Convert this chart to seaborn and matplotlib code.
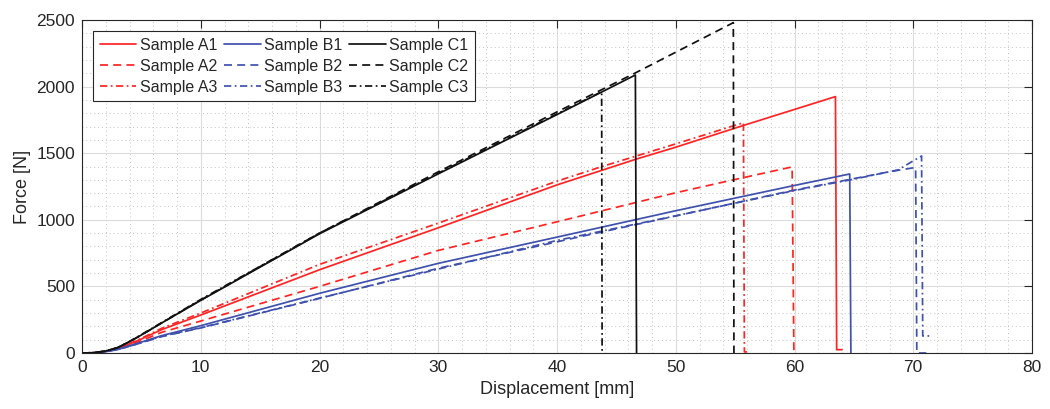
import matplotlib
matplotlib.use("Agg")
import matplotlib.pyplot as plt
import seaborn as sns
import pandas as pd
from matplotlib.ticker import MultipleLocator

# ---------------- data ----------------
labels = ["Sample A1", "Sample A2", "Sample A3",
          "Sample B1", "Sample B2", "Sample B3",
          "Sample C1", "Sample C2", "Sample C3"]

a1_x = [0, 1, 2, 3, 4, 5, 6.7, 10, 20, 30, 40, 46.65, 50, 55.4, 63.45, 63.55, 64.0]
a1_f = [0, 2, 12, 35, 68, 105, 175, 285, 625, 940, 1262, 1455, 1545, 1700, 1925, 25, 25]
a2_x = [0, 1, 2, 3, 4, 5, 6.7, 10, 20, 30, 40, 50, 54.85, 59.8, 59.95, 60.1]
a2_f = [0, 2, 11, 32, 60, 92, 155, 240, 500, 770, 985, 1203, 1300, 1397, 0, 0]
a3_x = [0, 1, 2, 3, 4, 5, 6.7, 10, 20, 30, 40, 43.76, 50, 55.7, 55.78, 56.25]
a3_f = [0, 2, 12, 36, 70, 110, 185, 300, 665, 975, 1290, 1399, 1570, 1729, 8, 8]

b1_x = [0, 1, 2, 3, 4, 5, 6.7, 10, 20, 30, 40, 50, 60, 64.65, 64.75]
b1_f = [0, 2, 10, 28, 55, 82, 130, 205, 448, 673, 870, 1068, 1258, 1344, 0]
b2_x = [0, 1, 2, 3, 4, 5, 6.7, 10, 20, 30, 41.94, 50.36, 59.76, 64.7, 68, 70.2, 70.3, 71.1]
b2_f = [0, 2, 9, 26, 50, 77, 123, 188, 410, 636, 873, 1036, 1219, 1304, 1361, 1393, 0, 0]
b3_x = [0, 1, 2, 3, 4, 5, 6.7, 10, 20, 30, 40, 50, 60, 65, 68.7, 70.7, 70.8, 71.4]
b3_f = [0, 2, 9, 26, 51, 78, 125, 190, 412, 630, 845, 1030, 1220, 1305, 1374, 1479, 128, 128]

c1_x = [0, 1, 2, 3, 4, 5, 6.7, 10, 20, 30, 40, 46.6, 46.7]
c1_f = [0, 2, 15, 40, 85, 135, 225, 395, 895, 1345, 1790, 2087, 0]
c2_x = [0, 1, 2, 3, 4, 5, 6.7, 10, 20, 30, 40, 46.65, 54.85, 54.9]
c2_f = [0, 2, 15, 40, 85, 135, 225, 398, 900, 1360, 1810, 2105, 2480, 0]
c3_x = [0, 1, 2, 3, 4, 5, 6.7, 10, 20, 30, 40, 43.76, 43.8]
c3_f = [0, 2, 15, 41, 87, 138, 228, 402, 900, 1350, 1795, 1962, 0]

x_ticks = [0, 10, 20, 30, 40, 50, 60, 70, 80]
y_ticks = [0, 500, 1000, 1500, 2000, 2500]

series = [(a1_x, a1_f), (a2_x, a2_f), (a3_x, a3_f),
          (b1_x, b1_f), (b2_x, b2_f), (b3_x, b3_f),
          (c1_x, c1_f), (c2_x, c2_f), (c3_x, c3_f)]

# ---------------- style ----------------
sns.set_theme(style="white")
plt.rcParams['font.family'] = ['Liberation Sans', 'DejaVu Sans']
plt.rcParams['lines.scale_dashes'] = True

RED = "#ff2424"
BLUE = "#3f51ad"
BLACK = "#111111"
colors = [RED] * 3 + [BLUE] * 3 + [BLACK] * 3
solid = "-"
dashed = (0, (4.6, 3.0))
dashdot = (0, (4.2, 2.0, 1.0, 2.0))
styles = [solid, dashed, dashdot] * 3

fig = plt.figure(figsize=(10.5, 4.09), dpi=100)
ax = fig.add_axes([82 / 1050, 56 / 409, 950 / 1050, 333 / 409])

for lab, (xs, fs), c, ls in zip(labels, series, colors, styles):
    df = pd.DataFrame({"Displacement": xs, "Force": fs})
    sns.lineplot(data=df, x="Displacement", y="Force", ax=ax, color=c,
                 linestyle=ls, linewidth=1.25, sort=False, estimator=None,
                 label=lab)

ax.set_xlim(0, 80)
ax.set_ylim(0, 2500)
ax.set_xticks(x_ticks)
ax.set_yticks(y_ticks)
ax.xaxis.set_minor_locator(MultipleLocator(2))
ax.yaxis.set_minor_locator(MultipleLocator(100))

ax.grid(True, which="major", color="#dcdcdc", linestyle="-", linewidth=0.8)
ax.grid(True, which="minor", color="#c4c4c4", linestyle=(0, (1, 3)), linewidth=0.7)
ax.set_axisbelow(True)

text_col = "#262626"
ax.tick_params(which="major", direction="in", length=5.5, width=0.8,
               top=True, right=True, labelsize=12.5, colors=text_col, pad=5)
ax.tick_params(which="minor", length=0, top=True, right=True)
for s in ax.spines.values():
    s.set_color(text_col)
    s.set_linewidth(0.8)

ax.set_xlabel("Displacement [mm]", fontsize=13, color=text_col, labelpad=4)
ax.set_ylabel("Force [N]", fontsize=13, color=text_col, labelpad=4)

leg = ax.legend(loc="upper left", ncol=3, fontsize=11.5, frameon=True,
                fancybox=False, framealpha=1, edgecolor="#262626",
                handlelength=2.3, handletextpad=0.2, columnspacing=0.45,
                labelspacing=0.38, borderpad=0.4, borderaxespad=0.7)
leg.get_frame().set_linewidth(0.8)
for t in leg.get_texts():
    t.set_color(text_col)

fig.savefig("out.png", dpi=100)
